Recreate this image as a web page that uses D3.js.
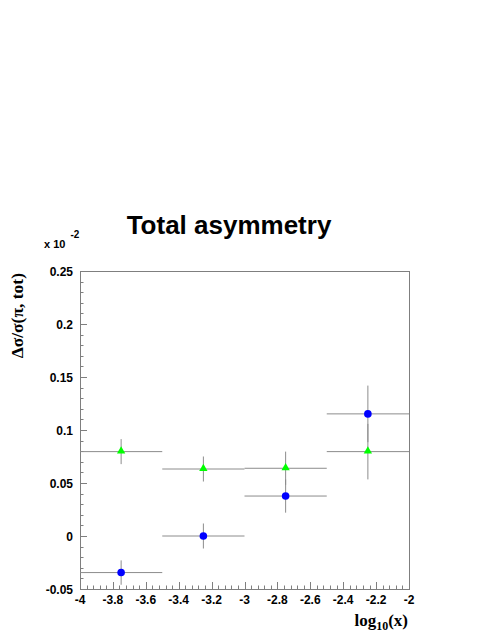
<!DOCTYPE html>
<html>
<head>
<meta charset="utf-8">
<script src="https://cdn.jsdelivr.net/npm/d3@7"></script>
<style>
html,body{margin:0;padding:0;background:#fff;}
svg{display:block;}
</style>
</head>
<body>
<svg id="chart" width="491" height="635"></svg>
<script>
// Data (values in units of 10^-2)
const binLow   = [-4.0, -3.5, -3.0, -2.5];
const binHigh  = [-3.5, -3.0, -2.5, -2.0];
const binCenter = [-3.75, -3.25, -2.75, -2.25];
const blueValues = [-0.0345, 0.0, 0.0377, 0.1152];
const blueErrors = [0.0115, 0.0118, 0.0157, 0.0267];
const greenValues = [0.0796, 0.0632, 0.0639, 0.0796];
const greenErrors = [0.0118, 0.0118, 0.0157, 0.0262];
const xTicks = [-4, -3.8, -3.6, -3.4, -3.2, -3, -2.8, -2.6, -2.4, -2.2, -2];
const xTickLabels = ["-4", "-3.8", "-3.6", "-3.4", "-3.2", "-3", "-2.8", "-2.6", "-2.4", "-2.2", "-2"];
const yTicks = [-0.05, 0, 0.05, 0.1, 0.15, 0.2, 0.25];
const yTickLabels = ["-0.05", "0", "0.05", "0.1", "0.15", "0.2", "0.25"];

const svg = d3.select("#chart");
const pLeft = 80, pRight = 409, pTop = 271, pBottom = 589;
const x = d3.scaleLinear().domain([-4, -2]).range([pLeft, pRight]);
const y = d3.scaleLinear().domain([-0.05, 0.25]).range([pBottom, pTop]);

const axisColor = "#7f7f7f";
const barColor = "#8c8c8c";
const helv = "'Liberation Sans', Arial, Helvetica, sans-serif";
const times = "'Liberation Serif', 'Times New Roman', serif";

// Frame
svg.append("rect").attr("x", pLeft + 0.5).attr("y", pTop + 0.5)
  .attr("width", pRight - pLeft).attr("height", pBottom - pTop)
  .attr("fill", "none").attr("stroke", axisColor).attr("stroke-width", 1);

// X ticks (major + minor), inward
const xMinor = d3.range(0, 51).map(i => -4 + i * 0.04);
svg.append("g").selectAll("line").data(xMinor).join("line")
  .attr("x1", d => Math.round(x(d)) + 0.5).attr("x2", d => Math.round(x(d)) + 0.5)
  .attr("y1", pBottom).attr("y2", (d, i) => i % 5 === 0 ? pBottom - 7 : pBottom - 3.5)
  .attr("stroke", axisColor).attr("stroke-width", 1);

// Y ticks
const yMinor = d3.range(0, 31).map(i => -0.05 + i * 0.01);
svg.append("g").selectAll("line").data(yMinor).join("line")
  .attr("y1", d => Math.round(y(d)) + 0.5).attr("y2", d => Math.round(y(d)) + 0.5)
  .attr("x1", pLeft).attr("x2", (d, i) => i % 5 === 0 ? pLeft + 7 : pLeft + 3.5)
  .attr("stroke", axisColor).attr("stroke-width", 1);

// X tick labels
svg.append("g").selectAll("text").data(xTicks).join("text")
  .attr("x", d => x(d)).attr("y", 604)
  .attr("text-anchor", "middle")
  .attr("font-family", helv).attr("font-weight", "bold").attr("font-size", 12)
  .text((d, i) => xTickLabels[i]);

// Y tick labels
svg.append("g").selectAll("text").data(yTicks).join("text")
  .attr("x", 73).attr("y", d => y(d) + 4.5)
  .attr("text-anchor", "end")
  .attr("font-family", helv).attr("font-weight", "bold").attr("font-size", 12)
  .text((d, i) => yTickLabels[i]);

// Exponent label
const expo = svg.append("text").attr("x", 44).attr("y", 248)
  .attr("font-family", helv).attr("font-weight", "bold").attr("font-size", 11);
expo.append("tspan").text("x 10");
expo.append("tspan").attr("dx", 5).attr("dy", -10).attr("font-size", 10).text("-2");

// Title
svg.append("text").attr("x", 229).attr("y", 234)
  .attr("text-anchor", "middle")
  .attr("font-family", helv).attr("font-weight", "bold").attr("font-size", 26)
  .text("Total asymmetry");

// Y axis title
svg.append("text")
  .attr("transform", "translate(23,273) rotate(-90)")
  .attr("text-anchor", "end")
  .attr("font-family", times).attr("font-weight", "bold").attr("font-size", 17.5)
  .text("Δσ/σ(π, tot)");

// X axis title
const xt = svg.append("text").attr("x", 408).attr("y", 626)
  .attr("text-anchor", "end")
  .attr("font-family", times).attr("font-weight", "bold").attr("font-size", 17);
xt.append("tspan").text("log");
xt.append("tspan").attr("dy", 4).attr("font-size", 12).text("10");
xt.append("tspan").attr("dy", -4).text("(x)");

// Series drawing
function drawSeries(values, errors, shape, color) {
  const g = svg.append("g");
  const idx = d3.range(values.length);
  g.selectAll("line.h").data(idx).join("line").attr("class", "h")
    .attr("x1", i => x(binLow[i])).attr("x2", i => x(binHigh[i]))
    .attr("y1", i => y(values[i])).attr("y2", i => y(values[i]))
    .attr("stroke", barColor).attr("stroke-width", 1);
  g.selectAll("line.v").data(idx).join("line").attr("class", "v")
    .attr("x1", i => x(binCenter[i])).attr("x2", i => x(binCenter[i]))
    .attr("y1", i => y(Math.max(values[i] - errors[i], -0.05))).attr("y2", i => y(values[i] + errors[i]))
    .attr("stroke", barColor).attr("stroke-width", 1);
  if (shape === "circle") {
    g.selectAll("circle").data(idx).join("circle")
      .attr("cx", i => x(binCenter[i])).attr("cy", i => y(values[i]))
      .attr("r", 3.8).attr("fill", color);
  } else {
    const sym = d3.symbol().type(d3.symbolTriangle).size(30);
    g.selectAll("path").data(idx).join("path")
      .attr("transform", i => `translate(${x(binCenter[i])},${y(values[i]) - 0.5})`)
      .attr("d", sym).attr("fill", color);
  }
}
drawSeries(greenValues, greenErrors, "triangle", "#00ff00");
drawSeries(blueValues, blueErrors, "circle", "#0000ff");
</script>
</body>
</html>
